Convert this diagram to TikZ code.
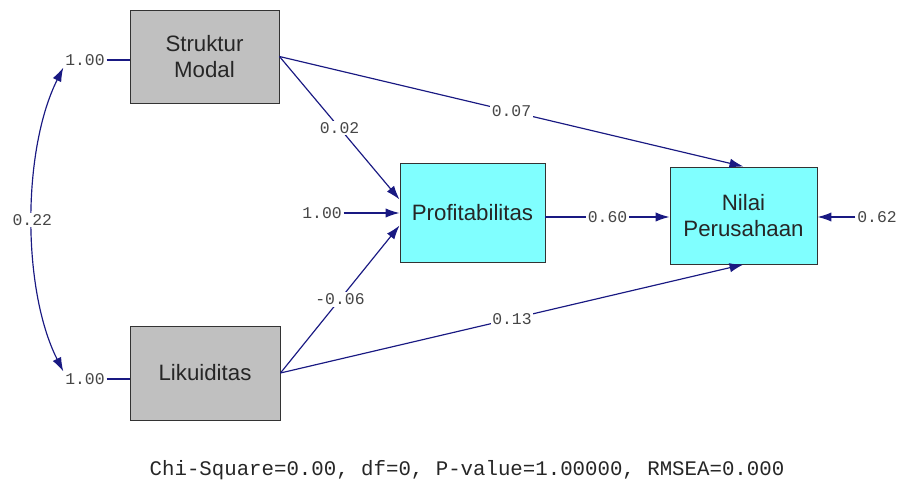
\documentclass[tikz,border=0pt]{standalone}
\usepackage{fontspec}
\setmainfont{Liberation Sans}
\newfontfamily\coeffont{Liberation Mono}
\usetikzlibrary{arrows.meta,positioning}
\definecolor{pathblue}{RGB}{25,25,130}
\definecolor{boxgray}{RGB}{192,192,192}
\definecolor{boxcyan}{RGB}{128,255,255}
\definecolor{numgray}{RGB}{70,70,70}
\tikzstyle{exo}=[draw=black!80, line width=0.8pt, fill=boxgray, align=center, inner sep=0pt, text=black!85, font=\fontsize{19}{22}\selectfont]
\tikzstyle{endo}=[exo, fill=boxcyan]
\tikzstyle{coef}=[fill=white, inner sep=1.5pt, text=numgray, font=\coeffont\fontsize{14}{16}\selectfont]
\tikzstyle{effect}=[draw=pathblue, line width=1pt, -{Latex[length=4.2mm,width=2.8mm]}]
\tikzstyle{plain}=[draw=pathblue, line width=1pt]
\tikzstyle{covar}=[draw=pathblue, line width=1pt, {Latex[length=4.2mm,width=2.8mm]}-{Latex[length=4.2mm,width=2.8mm]}]

\begin{document}
\begin{tikzpicture}[x=0.03cm, y=-0.03cm]
\useasboundingbox (0,0) rectangle (901,487);

% variables
\node[exo, minimum width=4.47cm, minimum height=2.79cm] (sm) at (204.5,56.5) {Struktur\\Modal};
\node[exo, minimum width=4.5cm, minimum height=2.82cm] (lk) at (205,373) {Likuiditas};
\node[endo, minimum width=4.35cm, minimum height=2.97cm] (pf) at (472.5,212.5) {Profitabilitas};
\node[endo, minimum width=4.41cm, minimum height=2.91cm] (np) at (743.5,215.5) {Nilai\\Perusahaan};

% variances and errors
\node[coef] (smv) at (85,60) {1.00};
\node[coef] (lkv) at (85,379) {1.00};
\node[coef] (pfe) at (322,213) {1.00};
\node[coef] (npe) at (877,217) {0.62};
\draw[plain] (smv) -- (sm.west |- smv);
\draw[plain] (lkv) -- (lk.west |- lkv);
\draw[effect] (pfe) -- (pf.west |- pfe);
\draw[effect] (npe) -- (np.east |- npe);

% covariance
\draw[covar] (smv.south west) .. controls (22,150) and (22,290) .. (lkv.north west) node[coef, pos=0.5] {0.22};

% paths
\draw[effect] (sm.east) -- node[coef] {0.07} (np.north);
\draw[effect] (sm.east) -- node[coef] {0.02} ([yshift=0.39cm]pf.west);
\draw[effect] (lk.east) -- node[coef] {-0.06} ([yshift=-0.39cm]pf.west);
\draw[effect] (lk.east) -- node[coef] {0.13} (np.south);
\draw[effect] (pf.east |- npe) -- node[coef] {0.60} (np.west |- npe);

% fit
\node[text=black!85, font=\coeffont\fontsize{17.7}{20}\selectfont] (fit) at (467,470) {Chi-Square=0.00, df=0, P-value=1.00000, RMSEA=0.000};

\end{tikzpicture}
\end{document}
